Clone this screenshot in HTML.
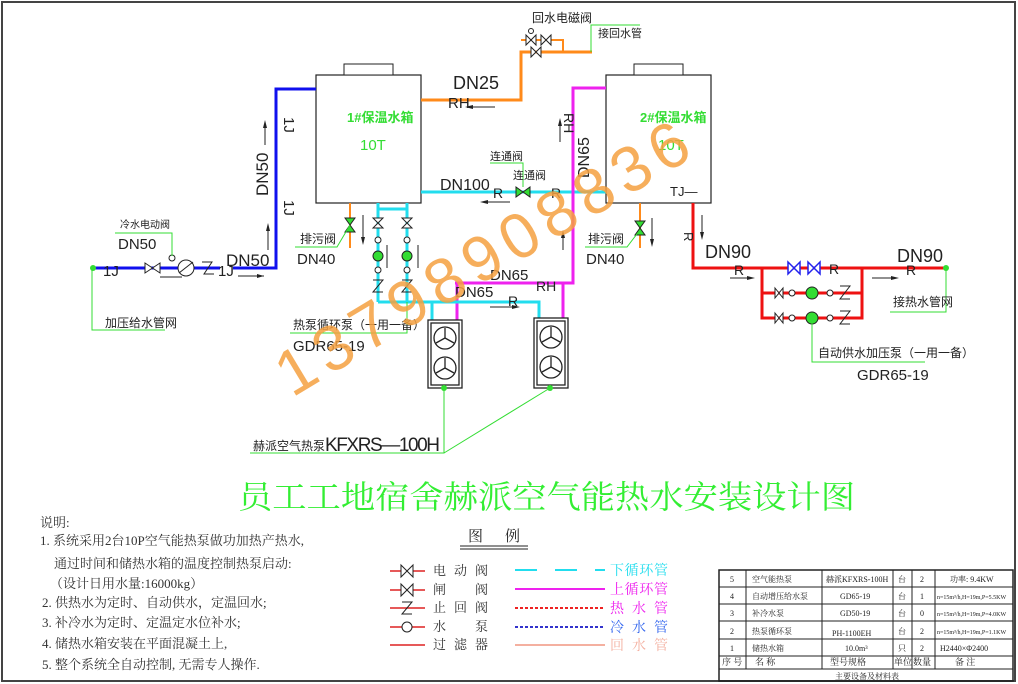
<!DOCTYPE html>
<html><head><meta charset="utf-8"><style>
html,body{margin:0;padding:0;background:#fff;}
svg{display:block;}
.cn{font-family:"Liberation Sans","Noto Sans CJK SC",sans-serif;}
.sf{font-family:"Liberation Serif","Noto Serif CJK SC",serif;}
</style></head><body>
<svg width="1018" height="684" viewBox="0 0 1018 684" xmlns="http://www.w3.org/2000/svg" class="cn">
<rect x="2" y="2" width="1013" height="679" fill="#fff" stroke="#444" stroke-width="2"/>

<!-- tanks -->
<rect x="316" y="75" width="105" height="128" fill="#fff" stroke="#222" stroke-width="1.2"/>
<rect x="344" y="64" width="49" height="11" fill="#fff" stroke="#222"/>
<rect x="606" y="75" width="105" height="128" fill="#fff" stroke="#222" stroke-width="1.2"/>
<rect x="634" y="64" width="49" height="11" fill="#fff" stroke="#222"/>
<text x="347" y="122" font-size="13" fill="#33dd33" font-weight="bold">1#保温水箱</text>
<text x="360" y="150" font-size="15" fill="#33dd33">10T</text>
<text x="640" y="122" font-size="13" fill="#33dd33" font-weight="bold">2#保温水箱</text>
<text x="658" y="150" font-size="15" fill="#33dd33">10T</text>
<text x="670" y="196" font-size="13" fill="#222">TJ—</text>

<!-- blue cold pipe -->
<polyline points="316,89 276,89 276,268 233,268" fill="none" stroke="#1010ee" stroke-width="3"/>
<line x1="93" y1="268" x2="220" y2="268" stroke="#1010ee" stroke-width="3"/>
<circle cx="93" cy="268" r="3" fill="#33dd33"/>
<text x="103" y="276" font-size="15" fill="#222">1J</text>
<text x="218" y="276" font-size="15" fill="#222">1J</text>
<path d="M145,263 L160,273 L160,263 L145,273Z" fill="#fff" stroke="#222"/>
<circle cx="186" cy="268" r="8" fill="#fff" stroke="#222"/>
<line x1="179" y1="273" x2="193" y2="262" stroke="#222"/>
<path d="M202,262 L212,262 L204,274 L214,274" fill="none" stroke="#222"/>
<circle cx="172" cy="258" r="3" fill="none" stroke="#222"/>
<polyline points="115,233 172,233 172,256" fill="none" stroke="#33dd33"/>
<text x="120" y="228" font-size="10" fill="#222">冷水电动阀</text>
<text x="118" y="249" font-size="15" fill="#222">DN50</text>
<polyline points="92,268 92,330 165,330" fill="none" stroke="#33dd33"/>
<text x="105" y="327" font-size="12" fill="#222">加压给水管网</text>
<text x="226" y="266" font-size="17" fill="#222">DN50</text>
<line x1="238" y1="276" x2="264" y2="276" stroke="#222"/><path d="M264,276 l-7,-2 v4z" fill="#222"/>
<line x1="160" y1="277" x2="182" y2="277" stroke="#222"/>
<text transform="translate(284,117) rotate(90)" font-size="15" fill="#222">1J</text>
<text transform="translate(284,200) rotate(90)" font-size="15" fill="#222">1J</text>
<text transform="translate(268,196) rotate(-90)" font-size="17" fill="#222">DN50</text>
<line x1="265" y1="145" x2="265" y2="122" stroke="#222"/><path d="M265,120 l-2,8 h4z" fill="#222"/>
<line x1="268" y1="250" x2="268" y2="225" stroke="#222"/><path d="M268,223 l-2,8 h4z" fill="#222"/>

<!-- orange return -->
<polyline points="421,100 521,100 521,52 592,52" fill="none" stroke="#ff8a1a" stroke-width="3"/>
<polyline points="521,40 563,40 563,52" fill="none" stroke="#ff8a1a" stroke-width="2"/>
<path d="M526,35 L536,45 L536,35 L526,45Z M541,35 L551,45 L551,35 L541,45Z M531,47 L541,57 L541,47 L531,57Z" fill="#fff" stroke="#222"/>
<circle cx="531" cy="31" r="2.5" fill="none" stroke="#222"/>
<text x="532" y="22" font-size="12" fill="#222">回水电磁阀</text>
<polyline points="591,52 591,25 640,25" fill="none" stroke="#33dd33"/>
<text x="598" y="37" font-size="11" fill="#222">接回水管</text>
<text x="453" y="89" font-size="18" fill="#222">DN25</text>
<text x="448" y="108" font-size="15" fill="#222">RH</text>
<line x1="467" y1="107" x2="495" y2="107" stroke="#222"/><path d="M465,107 l8,-2 v4z" fill="#222"/>

<!-- cyan DN100 -->
<line x1="421" y1="192" x2="606" y2="192" stroke="#22ddee" stroke-width="3"/>
<text x="440" y="190" font-size="16" fill="#222">DN100</text>
<text x="493" y="198" font-size="14" fill="#222">R</text>
<line x1="482" y1="202" x2="510" y2="202" stroke="#222"/><path d="M480,202 l8,-2 v4z" fill="#222"/>
<path d="M516,187 L530,197 L530,187 L516,197Z" fill="#33dd33" stroke="#222"/>
<text x="551" y="198" font-size="14" fill="#222">R</text>
<polyline points="490,163 523,163 523,187" fill="none" stroke="#33dd33"/>
<text x="490" y="160" font-size="11" fill="#222">连通阀</text>
<text x="513" y="179" font-size="11" fill="#222">连通阀</text>

<!-- magenta -->
<polyline points="606,88 573,88 573,283 455,283" fill="none" stroke="#ee22ee" stroke-width="3"/>
<line x1="563" y1="283" x2="563" y2="320" stroke="#ee22ee" stroke-width="3"/>
<line x1="457" y1="283" x2="457" y2="320" stroke="#ee22ee" stroke-width="3"/>
<text transform="translate(564,113) rotate(90)" font-size="14" fill="#222">RH</text>
<line x1="560" y1="142" x2="560" y2="120" stroke="#222"/><path d="M560,118 l-2,8 h4z" fill="#222"/>
<text transform="translate(589,178) rotate(-90)" font-size="16" fill="#222">DN65</text>
<line x1="563" y1="250" x2="563" y2="232" stroke="#222"/><path d="M563,230 l-2,8 h4z" fill="#222"/>
<text x="536" y="291" font-size="14" fill="#222">RH</text>
<text x="490" y="280" font-size="15" fill="#222">DN65</text>
<text x="455" y="297" font-size="15" fill="#222">DN65</text>

<!-- cyan bottom -->
<polyline points="378,203 378,209 407,209 407,203" fill="none" stroke="#22ddee" stroke-width="3"/>
<line x1="378" y1="209" x2="378" y2="302" stroke="#22ddee" stroke-width="3"/>
<line x1="407" y1="209" x2="407" y2="302" stroke="#22ddee" stroke-width="3"/>
<polyline points="378,302 539,302 539,320" fill="none" stroke="#22ddee" stroke-width="3"/>
<line x1="432" y1="302" x2="432" y2="320" stroke="#22ddee" stroke-width="3"/>
<text x="508" y="306" font-size="14" fill="#222">R</text>
<line x1="490" y1="307" x2="518" y2="307" stroke="#222"/><path d="M520,307 l-8,-2 v4z" fill="#222"/>
<g fill="#fff" stroke="#222">
<path d="M373,218 L383,228 L373,228 L383,218Z M402,218 L412,228 L402,228 L412,218Z"/>
<circle cx="378" cy="240" r="3"/><circle cx="407" cy="240" r="3"/>
<circle cx="378" cy="256" r="5" fill="#33dd33"/><circle cx="407" cy="256" r="5" fill="#33dd33"/>
<circle cx="378" cy="270" r="3"/><circle cx="407" cy="270" r="3"/>
<path d="M373,280 L383,280 L373,292 L383,292 M402,280 L412,280 L402,292 L412,292" fill="none"/>
</g>
<line x1="387" y1="245" x2="387" y2="268" stroke="#222"/><line x1="418" y1="245" x2="418" y2="268" stroke="#222"/>

<!-- drain 1 -->
<line x1="350" y1="203" x2="350" y2="248" stroke="#ff8a1a" stroke-width="2"/>
<path d="M345,218 L355,232 L345,232 L355,218Z" fill="#33dd33" stroke="#222"/>
<line x1="363" y1="215" x2="363" y2="243" stroke="#222"/><path d="M363,245 l-2,-8 h4z" fill="#222"/>
<polyline points="295,247 337,247 350,225" fill="none" stroke="#33dd33"/>
<text x="300" y="243" font-size="12" fill="#222">排污阀</text>
<text x="297" y="264" font-size="15" fill="#222">DN40</text>
<!-- drain 2 -->
<line x1="640" y1="203" x2="640" y2="248" stroke="#ff8a1a" stroke-width="2"/>
<path d="M635,221 L645,235 L635,235 L645,221Z" fill="#33dd33" stroke="#222"/>
<line x1="652" y1="218" x2="652" y2="245" stroke="#222"/><path d="M652,247 l-2,-8 h4z" fill="#222"/>
<polyline points="585,247 627,247 640,230" fill="none" stroke="#33dd33"/>
<text x="588" y="243" font-size="12" fill="#222">排污阀</text>
<text x="586" y="264" font-size="15" fill="#222">DN40</text>

<!-- heat pumps -->
<g fill="#fff" stroke="#222" stroke-width="1.3">
<rect x="428" y="320" width="34" height="68"/><rect x="431" y="323" width="28" height="62"/>
<circle cx="445" cy="338" r="11"/><circle cx="445" cy="368" r="11"/>
<rect x="534" y="318" width="34" height="70"/><rect x="537" y="321" width="28" height="64"/>
<circle cx="551" cy="337" r="11"/><circle cx="551" cy="367" r="11"/>
</g>
<g stroke="#222" stroke-width="1.3">
<path d="M445,338 v-10 M445,338 l9,5 M445,338 l-9,5 M445,368 v-10 M445,368 l9,5 M445,368 l-9,5"/>
<path d="M551,337 v-10 M551,337 l9,5 M551,337 l-9,5 M551,367 v-10 M551,367 l9,5 M551,367 l-9,5"/>
</g>
<polyline points="250,453 444,453 444,388" fill="none" stroke="#33dd33"/>
<line x1="444" y1="453" x2="550" y2="388" stroke="#33dd33"/>
<circle cx="444" cy="388" r="3" fill="#33dd33"/><circle cx="550" cy="388" r="3" fill="#33dd33"/>
<text x="253" y="450" font-size="12" fill="#222">赫派空气热泵</text>
<text x="325" y="451" font-size="19" fill="#222" textLength="115">KFXRS—100H</text>
<polyline points="290,333 407,333 407,302" fill="none" stroke="#33dd33"/>
<text x="293" y="329" font-size="12" fill="#222">热泵循环泵（一用一备）</text>
<text x="293" y="351" font-size="15" fill="#222">GDR65-19</text>

<!-- red hot -->
<polyline points="693,203 693,268 946,268" fill="none" stroke="#ee1111" stroke-width="3"/>
<polyline points="762,268 762,318 862,318 862,268" fill="none" stroke="#ee1111" stroke-width="3"/>
<line x1="762" y1="293" x2="862" y2="293" stroke="#ee1111" stroke-width="3"/>
<circle cx="946" cy="268" r="3" fill="#33dd33"/>
<path d="M788,262 L800,274 L800,262 L788,274Z M808,262 L820,274 L820,262 L808,274Z" fill="#fff" stroke="#2222ee" stroke-width="1.5"/>
<text x="829" y="274" font-size="14" fill="#222">R</text>
<g fill="#fff" stroke="#222">
<path d="M775,288 L783,298 L783,288 L775,298Z M775,313 L783,323 L783,313 L775,323Z"/>
<circle cx="792" cy="293" r="3"/><circle cx="792" cy="318" r="3"/>
<circle cx="812" cy="293" r="6" fill="#33dd33"/><circle cx="812" cy="318" r="6" fill="#33dd33"/>
<circle cx="830" cy="293" r="3"/><circle cx="830" cy="318" r="3"/>
<path d="M840,286 L850,286 L840,299 L850,299 M840,311 L850,311 L840,324 L850,324" fill="none"/>
</g>
<polyline points="812,318 812,362 925,362" fill="none" stroke="#33dd33"/>
<text x="818" y="357" font-size="12" fill="#222">自动供水加压泵（一用一备）</text>
<text x="857" y="380" font-size="15" fill="#222">GDR65-19</text>
<text transform="translate(684,232) rotate(90)" font-size="13" fill="#222">R</text>
<line x1="702" y1="215" x2="702" y2="238" stroke="#222"/><path d="M702,240 l-2,-8 h4z" fill="#222"/>
<text x="705" y="258" font-size="18" fill="#222">DN90</text>
<text x="734" y="275" font-size="14" fill="#222">R</text>
<line x1="730" y1="278" x2="753" y2="278" stroke="#222"/><path d="M755,278 l-8,-2 v4z" fill="#222"/>
<text x="897" y="262" font-size="18" fill="#222">DN90</text>
<text x="906" y="275" font-size="14" fill="#222">R</text>
<line x1="872" y1="278" x2="897" y2="278" stroke="#222"/><path d="M899,278 l-8,-2 v4z" fill="#222"/>
<polyline points="946,268 946,312 890,312" fill="none" stroke="#33dd33"/>
<text x="893" y="306" font-size="12" fill="#222">接热水管网</text>

<!-- watermark -->
<text transform="translate(292,398) rotate(-31)" font-size="64" fill="#f5a040" fill-opacity="0.85" textLength="470" lengthAdjust="spacing">13798908836</text>

<!-- title -->
<text x="238" y="508" font-size="32" fill="#33ee33" textLength="617" lengthAdjust="spacingAndGlyphs" class="sf">员工工地宿舍赫派空气能热水安装设计图</text>

<!-- notes -->
<g class="sf" fill="#333" font-size="13">
<text x="40" y="527">说明:</text>
<text x="40" y="545">1. 系统采用2台10P空气能热泵做功加热产热水,</text>
<text x="54" y="568">通过时间和储热水箱的温度控制热泵启动:</text>
<text x="50" y="588">（设计日用水量:16000kg）</text>
<text x="42" y="607">2. 供热水为定时、自动供水，定温回水;</text>
<text x="42" y="627">3. 补冷水为定时、定温定水位补水;</text>
<text x="42" y="648">4. 储热水箱安装在平面混凝土上,</text>
<text x="42" y="669">5. 整个系统全自动控制, 无需专人操作.</text>
</g>
<text x="468" y="541" font-size="15" fill="#222" class="sf" textLength="52">图 例</text>
<line x1="460" y1="546" x2="528" y2="546" stroke="#222"/><line x1="460" y1="549" x2="528" y2="549" stroke="#222"/>
<g stroke="#dd2222" stroke-width="1.5">
<line x1="390" y1="571" x2="425" y2="571"/><line x1="390" y1="590" x2="425" y2="590"/>
<line x1="390" y1="608" x2="425" y2="608"/><line x1="390" y1="627" x2="425" y2="627"/>
<line x1="390" y1="645" x2="425" y2="645"/>
</g>
<g fill="#fff" stroke="#222">
<path d="M401,565 L413,577 L413,565 L401,577Z M401,584 L413,596 L413,584 L401,596Z"/>
<path d="M402,602 L412,602 L402,614 L412,614" fill="none"/>
<circle cx="407" cy="627" r="5"/>
</g>
<g class="sf" fill="#333" font-size="13">
<text x="433" y="575" textLength="55">电 动 阀</text><text x="433" y="594" textLength="55">闸  阀</text>
<text x="433" y="612" textLength="55">止 回 阀</text><text x="433" y="631" textLength="55">水  泵</text>
<text x="433" y="649" textLength="55">过 滤 器</text>
</g>
<line x1="515" y1="570" x2="605" y2="570" stroke="#22ddee" stroke-width="2" stroke-dasharray="22,18"/>
<line x1="515" y1="589" x2="605" y2="589" stroke="#ee22ee" stroke-width="2"/>
<line x1="515" y1="608" x2="605" y2="608" stroke="#ee2222" stroke-width="2" stroke-dasharray="3,2"/>
<line x1="515" y1="627" x2="605" y2="627" stroke="#3333cc" stroke-width="2" stroke-dasharray="3,2"/>
<line x1="515" y1="645" x2="605" y2="645" stroke="#f4b0a0" stroke-width="2"/>
<g class="sf" font-size="14">
<text x="610" y="575" fill="#22ddee" textLength="58">下循环管</text>
<text x="610" y="594" fill="#ee22ee" textLength="58">上循环管</text>
<text x="610" y="613" fill="#ee22ee" textLength="58">热 水 管</text>
<text x="610" y="632" fill="#3366ee" textLength="58">冷 水 管</text>
<text x="610" y="650" fill="#f4b0a0" textLength="58">回 水 管</text>
</g>

<!-- table -->
<g stroke="#222" fill="none">
<rect x="719" y="570" width="294" height="111" stroke-width="1.5"/>
<line x1="719" y1="587" x2="1013" y2="587"/><line x1="719" y1="604" x2="1013" y2="604"/>
<line x1="719" y1="621" x2="1013" y2="621"/><line x1="719" y1="639" x2="1013" y2="639"/>
<line x1="719" y1="656" x2="1013" y2="656"/><line x1="719" y1="669" x2="1013" y2="669"/>
<line x1="746" y1="570" x2="746" y2="669"/><line x1="822" y1="570" x2="822" y2="669"/>
<line x1="893" y1="570" x2="893" y2="669"/><line x1="912" y1="570" x2="912" y2="669"/>
<line x1="935" y1="570" x2="935" y2="669"/>
</g>
<g class="sf" fill="#222" font-size="8">
<text x="730" y="582">5</text><text x="752" y="582">空气能热泵</text><text x="826" y="582">赫派KFXRS-100H</text><text x="898" y="582">台</text><text x="920" y="582">2</text><text x="950" y="582">功率: 9.4KW</text>
<text x="730" y="599">4</text><text x="752" y="599">自动增压给水泵</text><text x="840" y="599">GD65-19</text><text x="898" y="599">台</text><text x="920" y="599">1</text><text x="937" y="599" font-size="6">n=15m³/h,H=19m,P=5.5KW</text>
<text x="730" y="616">3</text><text x="752" y="616">补冷水泵</text><text x="840" y="616">GD50-19</text><text x="898" y="616">台</text><text x="920" y="616">0</text><text x="937" y="616" font-size="6">n=15m³/h,H=19m,P=4.0KW</text>
<text x="730" y="634">2</text><text x="752" y="634">热泵循环泵</text><text x="832" y="636">PH-1100EH</text><text x="898" y="634">台</text><text x="920" y="634">2</text><text x="937" y="634" font-size="6">n=15m³/h,H=19m,P=1.1KW</text>
<text x="730" y="651">1</text><text x="752" y="651">储热水箱</text><text x="845" y="651">10.0m³</text><text x="898" y="651">只</text><text x="920" y="651">2</text><text x="940" y="651">H2440×Φ2400</text>
<text x="722" y="665" font-size="9">序 号</text><text x="755" y="665" font-size="9">名    称</text><text x="830" y="665" font-size="9">型号规格</text><text x="894" y="665" font-size="9">单位</text><text x="913" y="665" font-size="9">数量</text><text x="955" y="665" font-size="9">备  注</text>
<text x="835" y="679" font-size="8">主要设备及材料表</text>
</g>
</svg>
</body></html>
